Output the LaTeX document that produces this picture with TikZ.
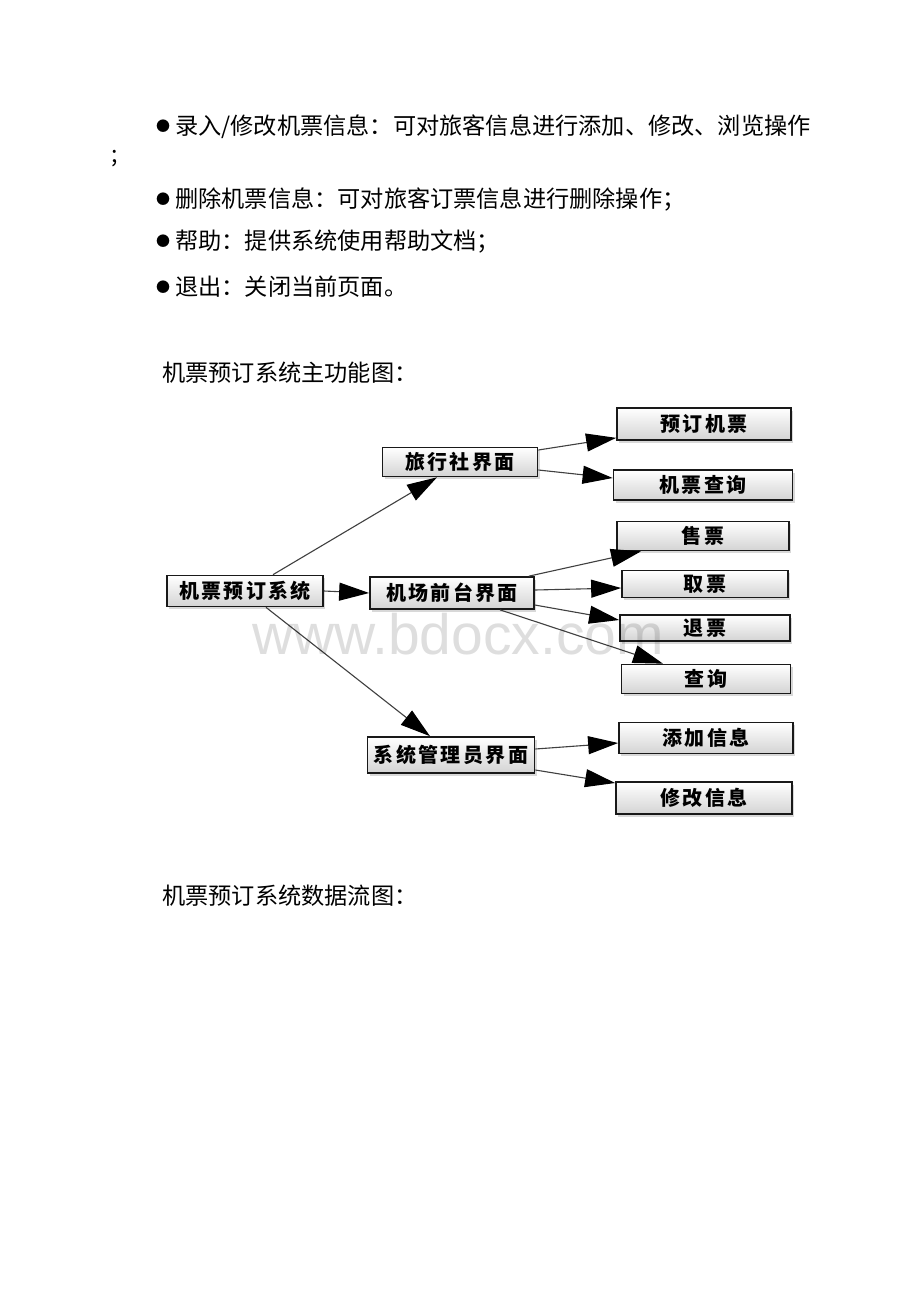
\documentclass[tikz,border=0pt]{standalone}
\usepackage{fontspec}
\setmainfont{Noto Sans CJK SC}
\newfontfamily\boxfont[LetterSpace=12]{Noto Sans CJK SC}
\newfontfamily\markfont{Liberation Sans}
\usetikzlibrary{arrows.meta,shadows}

\def\bodysize{\fontsize{23.2}{27}\selectfont}
\def\boxsize{\fontsize{20}{22}\selectfont}
\def\bulletmark{\raisebox{3pt}{\fontsize{14}{14}\selectfont ●}\hspace{5pt}}

\tikzset{
  txt/.style={anchor=west, inner sep=0pt, font=\bodysize},
  box/.style={draw=black!90, line width=1.7pt, inner sep=0pt,
    top color=white, bottom color=black!17,
    font=\boxfont\bfseries\boxsize,
    drop shadow={shadow xshift=2pt, shadow yshift=-2.5pt, opacity=0.3}},
  link/.style={draw=black!75, line width=1.1pt,
    -{Triangle[length=30pt,width=18pt,color=black]}}
}

\begin{document}
\begin{tikzpicture}[x=1pt,y=-1pt]

%page is 920 x 1302, coordinates are pixels counted from the top
\fill[white] (0,0) rectangle (920,1302);
\useasboundingbox (0,0) rectangle (920,1302);

\node[txt] (l1) at (156,127) {\bulletmark 录入/修改机票信息：可对旅客信息进行添加、修改、浏览操作};
\node[txt] (l1b) at (111,159) {;};
\node[txt] (l2) at (156,200) {\bulletmark 删除机票信息：可对旅客订票信息进行删除操作；};
\node[txt] (l3) at (156,242) {\bulletmark 帮助：提供系统使用帮助文档；};
\node[txt] (l4) at (156,287) {\bulletmark 退出：关闭当前页面。};

\node[txt] (cap1) at (162,373) {机票预订系统主功能图：};
\node[txt] (cap2) at (162,896) {机票预订系统数据流图：};

%the boxes
\node[box, minimum width=156pt, minimum height=31pt] (sys) at (245,591) {机票预订系统};

\node[box, minimum width=155pt, minimum height=29pt] (agency) at (460,462) {旅行社界面};
\node[box, minimum width=164pt, minimum height=32pt] (front) at (452,593) {机场前台界面};
\node[box, minimum width=167pt, minimum height=36pt] (admin) at (451,755) {系统管理员界面};

\node[box, minimum width=174pt, minimum height=32pt] (book) at (704,424) {预订机票};
\node[box, minimum width=179pt, minimum height=30pt] (query) at (703,485) {机票查询};

\node[box, minimum width=172pt, minimum height=29pt] (sell) at (703,536) {售票};
\node[box, minimum width=166pt, minimum height=27pt] (pick) at (705,584) {取票};
\node[box, minimum width=170pt, minimum height=26pt] (refund) at (705,628) {退票};
\node[box, minimum width=169pt, minimum height=29pt] (check) at (706,679) {查询};

\node[box, minimum width=174pt, minimum height=31pt] (add) at (706,738) {添加信息};
\node[box, minimum width=176pt, minimum height=32pt] (modify) at (704,798) {修改信息};

%connectors
\draw[link] ([xshift=28pt]sys.north) -- ([xshift=-23pt]agency.south);
\draw[link] (sys.east) -- (front.west);
\draw[link] ([xshift=21pt]sys.south) -- ([xshift=-21pt]admin.north);

\draw[link] ([yshift=12pt]agency.east) -- ([yshift=3pt]book.south west);
\draw[link] ([yshift=-8pt]agency.east) -- ([yshift=7pt]query.west);

\draw[link] ([xshift=-6pt]front.north east) -- ([xshift=-62pt]sell.south);
\draw[link] ([yshift=3pt]front.east) -- ([yshift=-4pt]pick.west);
\draw[link] ([yshift=-12pt]front.east) -- ([yshift=8pt]refund.west);
\draw[link] ([xshift=48pt]front.south) -- ([xshift=-43pt]check.north);

\draw[link] ([yshift=6pt]admin.east) -- ([yshift=-5pt]add.west);
\draw[link] ([yshift=-15pt]admin.east) -- ([yshift=15pt]modify.west);

%watermark, lies over the drawing
\node[inner sep=0pt, text=black, text opacity=0.13, font=\markfont\fontsize{57}{57}\selectfont] (mark) at (458,634) {www.bdocx.com};

\end{tikzpicture}
\end{document}
